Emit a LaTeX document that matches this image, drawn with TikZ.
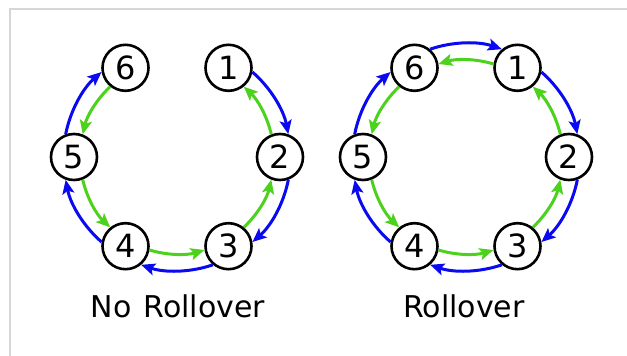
\documentclass[tikz,border=0pt]{standalone}
\usepackage{fontspec}
\setmainfont{DejaVu Sans}
\usepackage{xcolor}
\definecolor{rollblue}{HTML}{0A0AF0}
\definecolor{rollgreen}{HTML}{4CD21C}
\definecolor{framegray}{HTML}{D6D6D6}
\usepackage{tikz}
\usetikzlibrary{arrows.meta}

\begin{document}
\begin{tikzpicture}[x=1pt,y=1pt,looseness=0.87]
            \tikzstyle{num}=[circle,draw,line width=2.6pt,minimum size=46pt,inner sep=0pt,font=\fontsize{32}{32}\selectfont]
            \tikzstyle{fwd}=[draw=rollblue,line width=3pt,-{Stealth[length=14pt,width=12pt,inset=3pt]}]
            \tikzstyle{bwd}=[draw=rollgreen,line width=3pt,-{Stealth[length=14pt,width=12pt,inset=3pt]}]
            \tikzstyle{caption}=[anchor=base,font=\fontsize{30}{30}\selectfont]

            \useasboundingbox (0,0) rectangle (627,-356);
            \draw[framegray,line width=1.8pt] (10,-356) |- (627,-9);

            % no rollover
            \node[num] (L1) at (228.5,-67.8)  {1};
            \node[num] (L2) at (280,-157)     {2};
            \node[num] (L3) at (228.5,-246.2) {3};
            \node[num] (L4) at (125.5,-246.2) {4};
            \node[num] (L5) at (74,-157)      {5};
            \node[num] (L6) at (125.5,-67.8)  {6};
            \node[caption] (Lcap) at (178,-317.7) {No\hspace{0.4em}Rollover};

            \path   (L1.-10)  edge [fwd, out=-41,  in=101]  (L2.70)
                    (L2.-70)  edge [fwd, out=-101, in=41]   (L3.10)
                    (L3.-130) edge [fwd, out=-161, in=-19]  (L4.-50)
                    (L4.170)  edge [fwd, out=139,  in=-79]  (L5.-110)
                    (L5.110)  edge [fwd, out=79,   in=-139] (L6.-170)
                    (L2.111)  edge [bwd, out=103,  in=-43]  (L1.-51)
                    (L3.51)   edge [bwd, out=43,   in=-103] (L2.-111)
                    (L4.-9)   edge [bwd, out=-17,  in=-163] (L3.-171)
                    (L5.-69)  edge [bwd, out=-77,  in=137]  (L4.129)
                    (L6.-129) edge [bwd, out=-137, in=77]   (L5.69);

            % rollover
            \node[num] (R1) at (517.5,-67.8)  {1};
            \node[num] (R2) at (569,-157)     {2};
            \node[num] (R3) at (517.5,-246.2) {3};
            \node[num] (R4) at (414.5,-246.2) {4};
            \node[num] (R5) at (363,-157)     {5};
            \node[num] (R6) at (414.5,-67.8)  {6};
            \node[caption] (Rcap) at (464,-317.7) {Rollover};

            \path   (R1.-10)  edge [fwd, out=-41,  in=101]  (R2.70)
                    (R2.-70)  edge [fwd, out=-101, in=41]   (R3.10)
                    (R3.-130) edge [fwd, out=-161, in=-19]  (R4.-50)
                    (R4.170)  edge [fwd, out=139,  in=-79]  (R5.-110)
                    (R5.110)  edge [fwd, out=79,   in=-139] (R6.-170)
                    (R6.50)   edge [fwd, out=19,   in=161]  (R1.130)
                    (R2.111)  edge [bwd, out=103,  in=-43]  (R1.-51)
                    (R3.51)   edge [bwd, out=43,   in=-103] (R2.-111)
                    (R4.-9)   edge [bwd, out=-17,  in=-163] (R3.-171)
                    (R5.-69)  edge [bwd, out=-77,  in=137]  (R4.129)
                    (R6.-129) edge [bwd, out=-137, in=77]   (R5.69)
                    (R1.171)  edge [bwd, out=163,  in=17]   (R6.9);

        \end{tikzpicture}
\end{document}
